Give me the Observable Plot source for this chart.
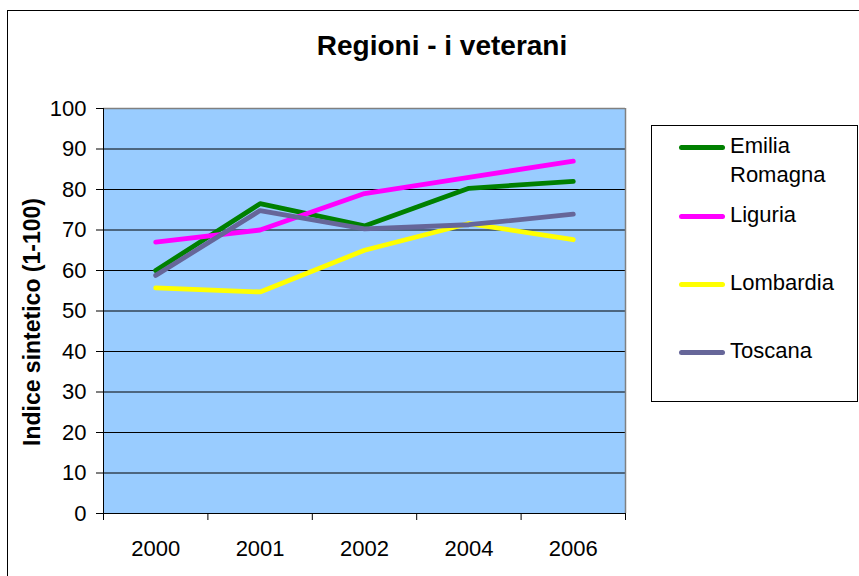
<!DOCTYPE html>
<html>
<head>
<meta charset="utf-8">
<script src="https://cdn.jsdelivr.net/npm/d3@7"></script>
<script src="https://cdn.jsdelivr.net/npm/@observablehq/plot@0.6"></script>
<style>
  html, body { margin: 0; padding: 0; background: #fff; }
  #wrap { position: relative; width: 859px; height: 576px; overflow: hidden; font-family: "Liberation Sans", Arial, sans-serif; }
  #frame { position: absolute; left: 7px; top: 10px; width: 900px; height: 600px; border-left: 1px solid #000; border-top: 1px solid #000; }
  #chart { position: absolute; left: 0; top: 0; }
  #title { position: absolute; left: 0; width: 884px; top: 30px; text-align: center; font-size: 28px; font-weight: bold; color: #000; }
  #legend { position: absolute; left: 651px; top: 125px; width: 205px; height: 275px; border: 1px solid #000; background: #fff; }
  .item { position: absolute; left: 0; font-size: 22px; line-height: 29px; color: #000; }
  .sw { position: absolute; left: 27px; width: 46px; height: 5px; border-radius: 3px; }
  .lab { position: absolute; left: 78px; white-space: nowrap; }
</style>
</head>
<body>
<div id="wrap">
  <div id="frame"></div>
  <div id="chart"></div>
  <div id="title"></div>
  <div id="legend"></div>
</div>
<script>
const titleText = "Regioni - i veterani";
const yLabel = "Indice sintetico (1-100)";
const years = ["2000", "2001", "2002", "2004", "2006"];
const series = ["Emilia Romagna", "Liguria", "Lombardia", "Toscana"];
const legendLines = [["Emilia", "Romagna"], ["Liguria"], ["Lombardia"], ["Toscana"]];
const colors = ["#008000", "#FF00FF", "#FFFF00", "#666699"];
const emilia = [60, 76.5, 71, 80.3, 82];
const liguria = [67, 70, 79, 83, 87];
const lombardia = [55.7, 54.7, 65, 71.6, 67.6];
const toscana = [58.8, 74.8, 70.3, 71.3, 73.9];
const yTicks = [0, 10, 20, 30, 40, 50, 60, 70, 80, 90, 100];
const gridTicks = [10, 20, 30, 40, 50, 60, 70, 80, 90];

const values = [emilia, liguria, lombardia, toscana];
const data = [];
series.forEach((s, k) => values[k].forEach((v, i) => data.push({series: s, i, value: v})));
const idx = years.map((_, i) => i);
const bounds = years.map((_, i) => i - 0.5).concat([years.length - 0.5]);

const plot = Plot.plot({
  width: 859,
  height: 576,
  marginLeft: 103,
  marginRight: 234,
  marginTop: 108,
  marginBottom: 63,
  style: {fontFamily: "'Liberation Sans', Arial, sans-serif", fontSize: "22px", color: "#000", background: "transparent"},
  x: {type: "linear", domain: [-0.5, years.length - 0.5], axis: null},
  y: {domain: [0, 100], axis: null},
  color: {domain: series, range: colors},
  marks: [
    Plot.frame({fill: "#99CCFF", stroke: null}),
    Plot.gridY(gridTicks, {stroke: "#000", strokeOpacity: 1, strokeWidth: 1}),
    Plot.ruleY([100], {stroke: "#808080", strokeWidth: 1.5}),
    Plot.ruleX([years.length - 0.5], {stroke: "#808080", strokeWidth: 1.5}),
    Plot.ruleX([-0.5], {stroke: "#000", strokeWidth: 1}),
    Plot.ruleY([0], {stroke: "#000", strokeWidth: 1}),
    Plot.axisY(yTicks, {anchor: "left", tickSize: 7, tickPadding: 10, label: null, fontSize: 22, stroke: "#000"}),
    Plot.axisX(bounds, {anchor: "bottom", tickSize: 7, tickFormat: () => "", label: null}),
    Plot.axisX(idx, {anchor: "bottom", tickSize: 0, tickPadding: 27, tickFormat: i => years[i], label: null, fontSize: 22}),
    Plot.text([yLabel], {frameAnchor: "left", textAnchor: "middle", dx: -71, dy: 11, rotate: -90, text: d => d, fontWeight: "bold", fontSize: 23, fill: "#000"}),
    Plot.line(data, {x: "i", y: "value", z: "series", stroke: "series", strokeWidth: 4.8, strokeLinecap: "round", strokeLinejoin: "round"})
  ]
});
document.getElementById("chart").appendChild(plot);
document.getElementById("title").textContent = titleText;

const centers = [19, 88, 156, 224];
const legend = document.getElementById("legend");
series.forEach((s, k) => {
  const item = document.createElement("div");
  item.className = "item";
  item.style.top = (centers[k] - 14.5) + "px";
  const sw = document.createElement("div");
  sw.className = "sw";
  sw.style.background = colors[k];
  sw.style.top = "14px";
  const lab = document.createElement("div");
  lab.className = "lab";
  lab.innerHTML = legendLines[k].join("<br>");
  item.appendChild(sw);
  item.appendChild(lab);
  legend.appendChild(item);
});
</script>
</body>
</html>
